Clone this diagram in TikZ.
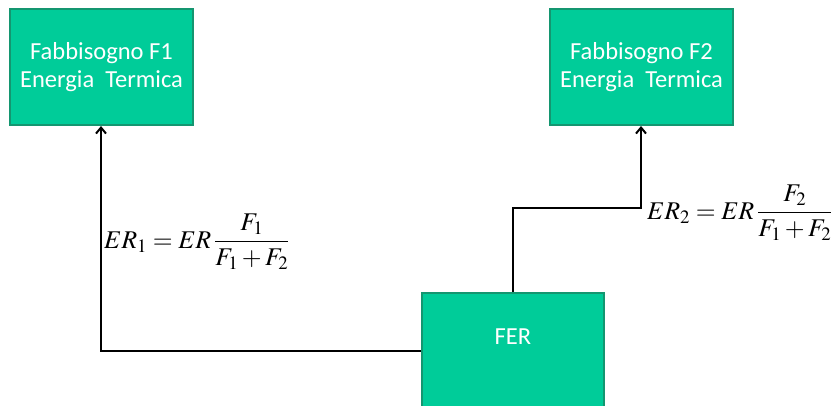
\documentclass[tikz,border=0pt]{standalone}
\usepackage{mathptmx}
\usepackage[no-math]{fontspec}
\setmainfont{Carlito}
\usetikzlibrary{arrows.meta}
\definecolor{boxfill}{RGB}{0,204,153}
\definecolor{boxline}{RGB}{20,150,112}
\tikzset{
  greenbox/.style={draw=boxline, line width=2pt, fill=boxfill, text=white,
    font=\fontsize{24.5}{28}\selectfont, align=center, inner sep=0pt},
  conn/.style={line width=2pt, black},
  arr/.style={conn, -{Straight Barb[length=6pt,width=10pt,line width=2pt]}},
  formula/.style={font=\fontsize{25.5}{30}\selectfont, inner sep=0pt, anchor=west}
}
\begin{document}
\begin{tikzpicture}[x=1pt,y=-1pt]
\useasboundingbox (0,0) rectangle (839,405);
\node[greenbox, minimum width=183pt, minimum height=116pt] (f1) at (101.5,67) {Fabbisogno F1\\Energia\ \ Termica};
\node[greenbox, minimum width=183pt, minimum height=116pt] (f2) at (641.5,67) {Fabbisogno F2\\Energia\ \ Termica};
\node[greenbox, minimum width=182pt, minimum height=130pt] (fer) at (513,358) {};
\node[text=white, font=\fontsize{24.5}{28}\selectfont, inner sep=0pt] (fert) at (513,337) {FER};
\coordinate (c1) at (101,351);
\coordinate (c2a) at (513,208);
\coordinate (c2b) at (641,208);
\draw[arr] (fer.west |- c1) -- (c1) -- (f1.south -| c1);
\draw[arr] (fer.north -| c2a) -- (c2a) -- (c2b) -- (f2.south -| c2b);
\node[formula] (e1) at (104,242) {$\displaystyle ER_1=ER\,\frac{F_1}{F_1+F_2}$};
\node[formula] (e2) at (647,213) {$\displaystyle ER_2=ER\,\frac{F_2}{F_1+F_2}$};
\end{tikzpicture}
\end{document}
